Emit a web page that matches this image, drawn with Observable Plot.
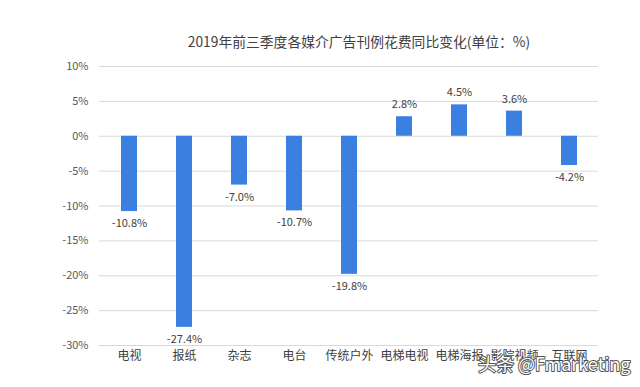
<!DOCTYPE html>
<html>
<head>
<meta charset="utf-8">
<script src="https://cdn.jsdelivr.net/npm/d3@7"></script>
<script src="https://cdn.jsdelivr.net/npm/@observablehq/plot@0.6"></script>
<style>
  body { margin: 0; background: #fff; }
  #chart svg { display: block; }
</style>
</head>
<body>
<div id="chart"></div>
<script>
const categories = ["电视", "报纸", "杂志", "电台", "传统户外", "电梯电视", "电梯海报", "影院视频", "互联网"];
const values = [-10.8, -27.4, -7.0, -10.7, -19.8, 2.8, 4.5, 3.6, -4.2];
const yTicks = [10, 5, 0, -5, -10, -15, -20, -25, -30];
const titleText = "2019年前三季度各媒介广告刊例花费同比变化(单位：%)";
const watermark = "头条 @Fmarketing";

const data = categories.map((c, i) => ({category: c, value: values[i]}));
const font = "'Noto Sans CJK SC', 'Noto Sans', sans-serif";
const fmt = d => d.value.toFixed(1) + "%";

const chart = Plot.plot({
  width: 640,
  height: 387,
  marginTop: 66,
  marginBottom: 42,
  marginLeft: 99,
  marginRight: 42,
  style: {fontFamily: font, fontSize: "11px", color: "#595959", background: "#fff"},
  x: {domain: categories, paddingInner: 0.71, paddingOuter: 0.355, label: null, tickSize: 0, tickPadding: 6},
  y: {domain: [-30, 10], ticks: yTicks, label: null, tickSize: 0, tickPadding: 11,
      tickFormat: d => d + "%"},
  marks: [
    Plot.ruleY(yTicks, {stroke: "#d9d9d9", strokeWidth: 1}),
    Plot.barY(data, {x: "category", y: "value", fill: "#3b7fe0"}),
    Plot.text(data.filter(d => d.value < 0), {
      x: "category", y: "value", text: fmt, dy: 12,
      fill: "#404040", fontSize: 11
    }),
    Plot.text(data.filter(d => d.value >= 0), {
      x: "category", y: "value", text: fmt, dy: -12,
      fill: "#404040", fontSize: 11
    }),
    Plot.axisX({tickSize: 0, tickPadding: 6, fontSize: 12, fill: "#404040", label: null}),
    Plot.text([titleText], {
      frameAnchor: "top", dy: -29, dx: 10,
      text: d => d, fontSize: 13.8, fill: "#404040"
    }),
    Plot.text([watermark], {
      frameAnchor: "bottom-right", dx: 32, dy: 25, textAnchor: "end",
      text: d => d, fontSize: 18, fill: "#ffffff", stroke: "#555", strokeWidth: 2
    })
  ]
});
document.getElementById("chart").appendChild(chart);
</script>
</body>
</html>
